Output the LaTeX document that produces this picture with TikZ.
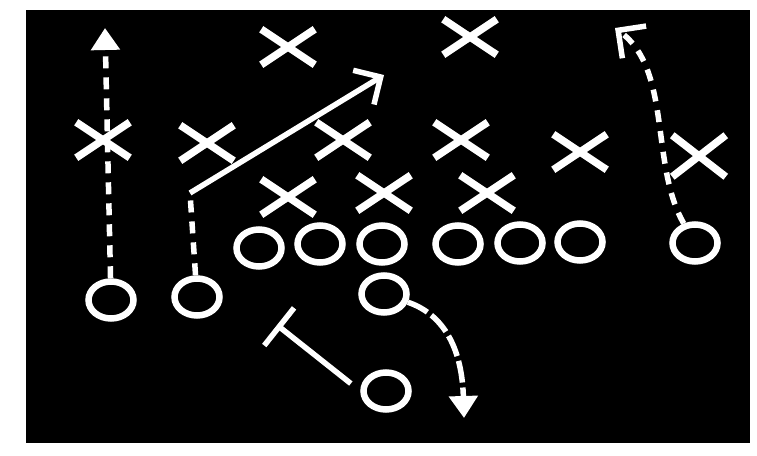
\documentclass[tikz,border=0pt]{standalone}
\usetikzlibrary{arrows.meta,shapes.misc,shapes.geometric}
\tikzset{
  board/.style  = {fill=black},
  xman/.style   = {cross out, draw=white, line width=7.5pt, minimum width=46pt,
                   minimum height=28pt, inner sep=0pt},
  oman/.style   = {ellipse, draw=white, line width=6.5pt, minimum width=45pt,
                   minimum height=37pt, inner sep=0pt},
  route/.style  = {draw=white, line width=5.5pt},
  droute/.style = {route, dash pattern=on 12pt off 9pt},
  ftip/.style   = {-{Triangle[length=22pt,width=28pt,fill=white]}},
  otip/.style   = {-{Straight Barb[length=20pt,width=40pt]}},
  btip/.style   = {-{Bar[width=48pt]}},
}
\begin{document}
\begin{tikzpicture}[x=1pt,y=-1pt]
  \useasboundingbox (0,0) rectangle (757,455);
  \fill[board] (26,10) rectangle (750,443);
  % defence
  \node[xman] (xA) at (288,47) {};
  \node[xman] (xB) at (470,37) {};
  \node[xman] (xC) at (103,140) {};
  \node[xman] (xD) at (207,143) {};
  \node[xman] (xE) at (343,140) {};
  \node[xman] (xF) at (461,140) {};
  \node[xman] (xG) at (580,152) {};
  \node[xman,minimum height=34pt] (xH) at (699,156) {};
  \node[xman] (xI) at (288,197) {};
  \node[xman] (xJ) at (384,193) {};
  \node[xman] (xK) at (487,193) {};
  % offence, the line
  \node[oman] (oA) at (259,248) {};
  \node[oman] (oB) at (320,244) {};
  \node[oman] (oC) at (382,244) {};
  \node[oman] (oD) at (458,244) {};
  \node[oman] (oE) at (520,243) {};
  \node[oman] (oF) at (580,242) {};
  \node[oman] (oG) at (695,243) {};
  % backs
  \node[oman] (oH) at (111,300) {};
  \node[oman] (oI) at (197,297) {};
  \node[oman] (oJ) at (384,294) {};
  \node[oman] (oK) at (386,391) {};
  % routes
  \coordinate (tipL) at (105,28);
  \coordinate (turn) at (190,193);
  \coordinate (tipM) at (384,75);
  \coordinate (tipR) at (615,28);
  \coordinate (tipB) at (464,418);
  \coordinate (blk)  at (277,325);
  \draw[droute,ftip] (oH) -- (tipL);
  \draw[droute] (oI) -- (turn);
  \draw[route,otip] (turn) -- (tipM);
  \draw[droute,otip] (oG) .. controls (650,165) and (672,70) .. (tipR);
  \draw[route,dash pattern=on 22pt off 5pt,ftip] (oJ) .. controls (445,315) and (462,350) .. (tipB);
  \draw[route,btip,shorten <=12pt] (oK.west) -- (blk);
\end{tikzpicture}
\end{document}
